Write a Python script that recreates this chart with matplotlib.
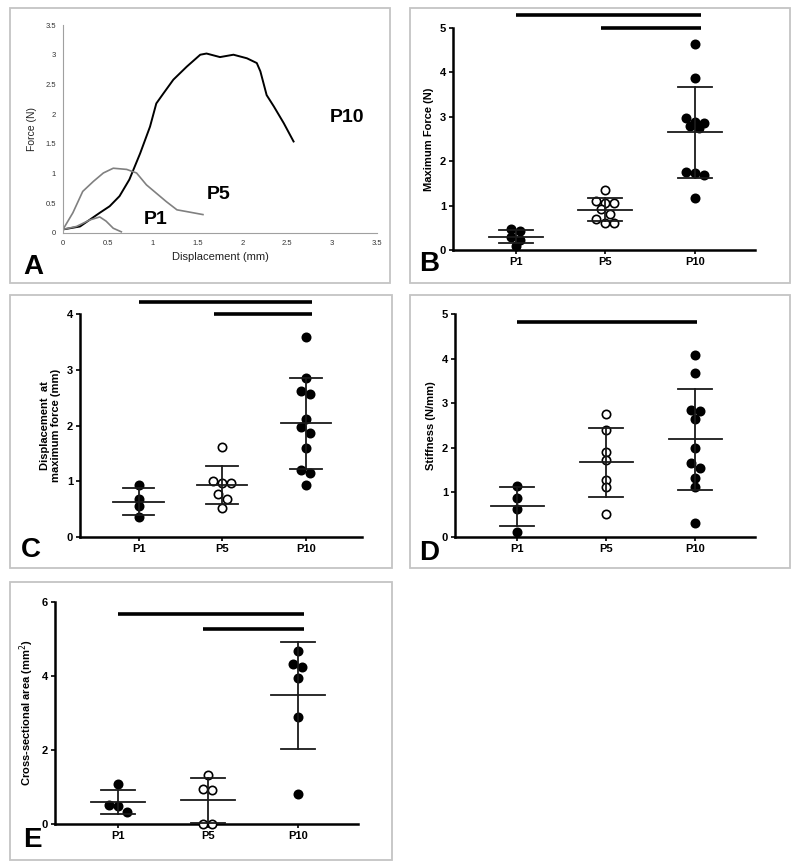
import numpy as np
import matplotlib
matplotlib.use('Agg')
import matplotlib.pyplot as plt
from matplotlib.patches import Rectangle

plt.rcParams['font.family'] = ['Liberation Sans', 'DejaVu Sans']

# A: force-displacement curves
p10_disp = [0, 0.19, 0.41, 0.52, 0.63, 0.74, 0.86, 0.97, 1.04, 1.12, 1.23, 1.38, 1.53,
            1.60, 1.75, 1.90, 2.05, 2.16, 2.20, 2.27, 2.35, 2.46, 2.57]
p10_force = [0.06, 0.11, 0.34, 0.45, 0.62, 0.90, 1.34, 1.79, 2.18, 2.35, 2.58, 2.80, 3.00,
             3.02, 2.96, 3.00, 2.94, 2.86, 2.72, 2.32, 2.13, 1.85, 1.54]
p5_disp = [0, 0.11, 0.22, 0.34, 0.45, 0.56, 0.71, 0.82, 0.93, 1.04, 1.15, 1.27, 1.38, 1.56]
p5_force = [0.06, 0.34, 0.70, 0.87, 1.01, 1.09, 1.07, 1.01, 0.81, 0.67, 0.53, 0.39, 0.36, 0.31]
p1_disp = [0, 0.15, 0.30, 0.41, 0.48, 0.56, 0.65]
p1_force = [0.06, 0.11, 0.22, 0.27, 0.20, 0.08, 0.02]

groups = ['P1', 'P5', 'P10']

# B: maximum force (N)
force_p1 = [0.48, 0.42, 0.30, 0.22, 0.10]
force_p5 = [1.35, 1.10, 1.05, 1.05, 0.92, 0.80, 0.70, 0.60, 0.60]
force_p10 = [4.65, 3.87, 2.97, 2.89, 2.87, 2.79, 2.74, 1.76, 1.73, 1.69, 1.16]

# C: displacement at maximum force (mm)
disp_p1 = [0.93, 0.69, 0.56, 0.35]
disp_p5 = [1.61, 1.00, 0.96, 0.96, 0.78, 0.69, 0.52]
disp_p10 = [3.59, 2.85, 2.61, 2.56, 2.11, 1.97, 1.86, 1.59, 1.20, 1.14, 0.93]

# D: stiffness (N/mm)
stiff_p1 = [1.14, 0.87, 0.62, 0.12]
stiff_p5 = [2.76, 2.41, 1.91, 1.73, 1.28, 1.11, 0.51]
stiff_p10 = [4.08, 3.67, 2.85, 2.83, 2.65, 1.99, 1.67, 1.54, 1.32, 1.13, 0.32]

# E: cross-sectional area (mm^2)
area_p1 = [1.07, 0.52, 0.49, 0.33]
area_p5 = [1.32, 0.95, 0.93, 0.0, 0.0]
area_p10 = [4.68, 4.32, 4.23, 3.94, 2.88, 0.81]

W, H = 800, 866
fig = plt.figure(figsize=(W / 100, H / 100), dpi=100)


def add_ax(l, t, r, b):
    return fig.add_axes([l / W, 1 - b / H, (r - l) / W, (b - t) / H])


def frame(l, t, r, b):
    fig.patches.append(Rectangle((l / W, 1 - b / H), (r - l) / W, (b - t) / H,
                                 transform=fig.transFigure, fill=False,
                                 edgecolor='#c4c4c4', lw=1.3))


def row_offsets(ax, vals, diam=9.0):
    # group close values into rows and spread them around the centre
    vals = np.asarray(vals, dtype=float)
    ypx = ax.transData.transform(np.c_[np.ones_like(vals), vals])[:, 1]
    dx = ax.transData.inverted().transform([[diam, 0]])[0, 0] - \
        ax.transData.inverted().transform([[0, 0]])[0, 0]
    order = np.argsort(-vals)
    offs = np.zeros(len(vals))
    i = 0
    while i < len(order):
        j = i
        while j + 1 < len(order) and abs(ypx[order[j + 1]] - ypx[order[i]]) < diam * 0.8:
            j += 1
        n = j - i + 1
        for k in range(n):
            offs[order[i + k]] = (k - (n - 1) / 2) * dx
        i = j + 1
    return offs


def dot_panel(ax, data, ymax, yticks, ylabel, bars):
    ax.set_xlim(0.3, 3.67)
    ax.set_ylim(0, ymax)
    for i, vals in enumerate(data):
        x0 = i + 1
        offs = row_offsets(ax, vals)
        face = 'white' if i == 1 else 'black'
        ax.plot(x0 + offs, vals, 'o', ms=6, mfc=face, mec='black', mew=1.2,
                zorder=3, clip_on=False)
        m = np.mean(vals)
        s = np.std(vals, ddof=1)
        lc = '#1a1a1a'
        ax.plot([x0 - 0.3, x0 + 0.3], [m, m], color=lc, lw=1.3, zorder=4)
        ax.plot([x0, x0], [max(m - s, 0), m + s], color=lc, lw=1.3, zorder=4)
        ax.plot([x0 - 0.19, x0 + 0.19], [m + s, m + s], color=lc, lw=1.3, zorder=4)
        if m - s > 0:
            ax.plot([x0 - 0.19, x0 + 0.19], [m - s, m - s], color=lc, lw=1.3, zorder=4)
    for x1, x2, y in bars:
        ax.plot([x1, x2], [y, y], color='black', lw=2.6, clip_on=False,
                solid_capstyle='butt')
    for sp in ['top', 'right']:
        ax.spines[sp].set_visible(False)
    for sp in ['left', 'bottom']:
        ax.spines[sp].set_linewidth(1.8)
    ax.set_xticks([1, 2, 3])
    ax.set_xticklabels(groups, fontsize=8, fontweight='bold')
    ax.set_yticks(yticks)
    ax.set_yticklabels([str(t) for t in yticks], fontsize=8, fontweight='bold')
    ax.tick_params(length=3, width=1.2, pad=2)
    ax.set_ylabel(ylabel, fontsize=8, fontweight='bold', labelpad=4)


# panel frames
frame(10, 8, 390, 283)
frame(410, 8, 790, 283)
frame(10, 295, 392, 568)
frame(410, 295, 790, 568)
frame(10, 582, 392, 860)

# A
axA = add_ax(63, 25, 377, 233)
axA.plot(p10_disp, p10_force, color='black', lw=1.4)
axA.plot(p5_disp, p5_force, color='#808080', lw=1.2)
axA.plot(p1_disp, p1_force, color='#808080', lw=1.2)
axA.set_xlim(0, 3.5)
axA.set_ylim(0, 3.5)
ticks = np.arange(0, 3.51, 0.5)
labs = ['0', '0.5', '1', '1.5', '2', '2.5', '3', '3.5']
axA.set_xticks(ticks)
axA.set_xticklabels(labs, fontsize=5.5, color='#333333')
axA.set_yticks(ticks)
axA.set_yticklabels(labs, fontsize=5.5, color='#333333')
axA.tick_params(length=0, pad=5)
for sp in ['top', 'right']:
    axA.spines[sp].set_visible(False)
for sp in ['left', 'bottom']:
    axA.spines[sp].set_color('#a0a0a0')
axA.set_xlabel('Displacement (mm)', fontsize=8, color='#222222', labelpad=4)
axA.set_ylabel('Force (N)', fontsize=7.5, color='#222222', labelpad=6)
axA.text(3.17, 1.95, 'P10', fontsize=14, fontweight='bold', ha='center', va='center')
axA.text(1.73, 0.64, 'P5', fontsize=14, fontweight='bold', ha='center', va='center')
axA.text(1.03, 0.22, 'P1', fontsize=14, fontweight='bold', ha='center', va='center')

# B
axB = add_ax(453, 28, 755, 250)
dot_panel(axB, [force_p1, force_p5, force_p10], 5, [0, 1, 2, 3, 4, 5],
          'Maximum Force (N)', [(1, 3.07, 5.3), (1.95, 3.07, 5.0)])

# C
axC = add_ax(80, 314, 362, 537)
dot_panel(axC, [disp_p1, disp_p5, disp_p10], 4, [0, 1, 2, 3, 4],
          'Displacement  at\nmaximum force (mm)', [(1, 3.07, 4.22), (1.9, 3.07, 4.0)])

# D
axD = add_ax(455, 314, 755, 537)
dot_panel(axD, [stiff_p1, stiff_p5, stiff_p10], 5, [0, 1, 2, 3, 4, 5],
          'Stiffness (N/mm)', [(1, 3.02, 4.82)])

# E
axE = add_ax(55, 602, 358, 824)
dot_panel(axE, [area_p1, area_p5, area_p10], 6, [0, 2, 4, 6],
          'Cross-sectional area (mm$^2$)', [(1, 3.07, 5.68), (1.95, 3.07, 5.27)])

# panel letters
for letter, px, py in [('A', 33, 267), ('B', 429, 264), ('C', 31, 550),
                       ('D', 429, 553), ('E', 32, 840)]:
    fig.text(px / W, 1 - py / H, letter, fontsize=20, fontweight='bold',
             ha='center', va='center')

fig.savefig('out.png', dpi=100)
